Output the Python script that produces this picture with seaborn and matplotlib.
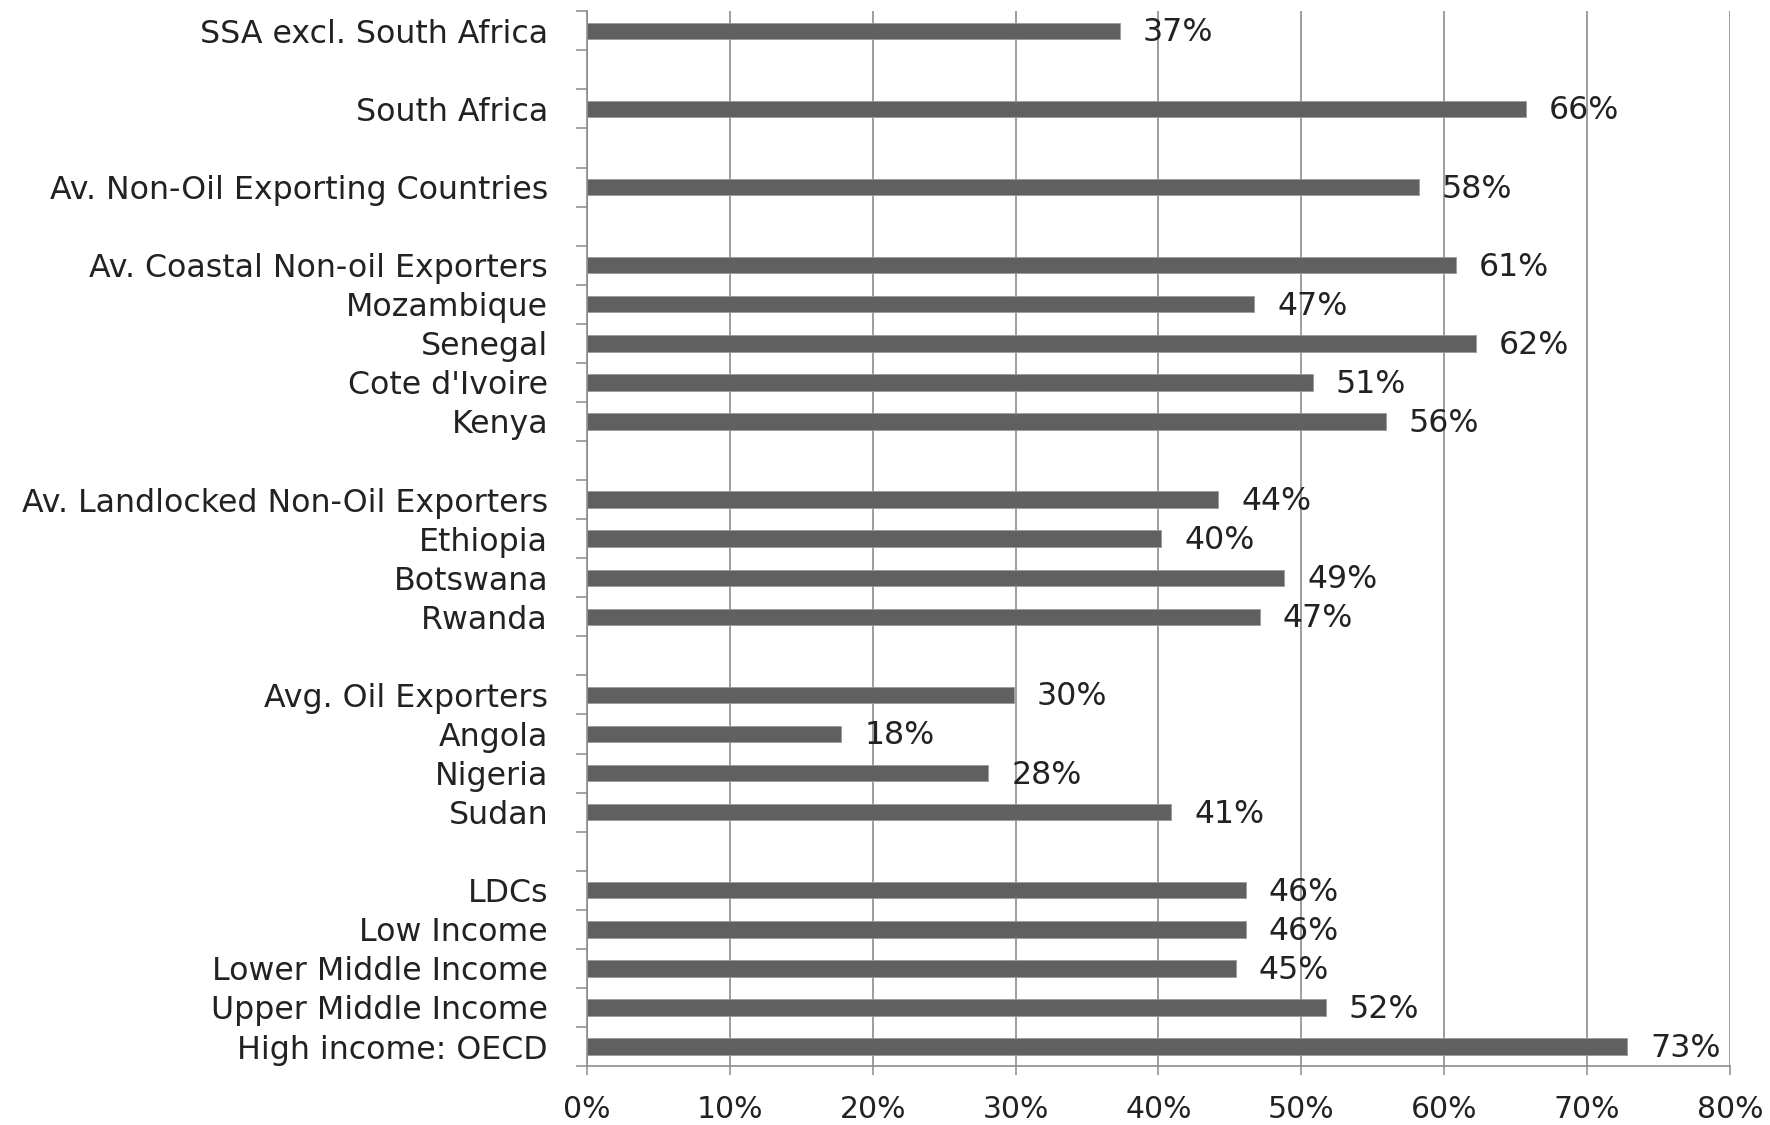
import matplotlib
matplotlib.use("Agg")
import matplotlib.pyplot as plt
import numpy as np
import pandas as pd
import seaborn as sns

# Groups of regions / countries (top to bottom), separated by an empty row
group_labels = [
    ["SSA excl. South Africa"],
    ["South Africa"],
    ["Av. Non-Oil Exporting Countries"],
    ["Av. Coastal Non-oil Exporters", "Mozambique", "Senegal", "Cote d'Ivoire", "Kenya"],
    ["Av. Landlocked Non-Oil Exporters", "Ethiopia", "Botswana", "Rwanda"],
    ["Avg. Oil Exporters", "Angola", "Nigeria", "Sudan"],
    ["LDCs", "Low Income", "Lower Middle Income", "Upper Middle Income", "High income: OECD"],
]
group_values = [
    [0.373],
    [0.657],
    [0.582],
    [0.608, 0.467, 0.622, 0.508, 0.559],
    [0.442, 0.402, 0.488, 0.471],
    [0.299, 0.178, 0.281, 0.409],
    [0.461, 0.461, 0.454, 0.517, 0.728],
]
x_ticks = [0.0, 0.1, 0.2, 0.3, 0.4, 0.5, 0.6, 0.7, 0.8]

# Build one row per slot; spacer slots carry no value
slots, labels, values = [], [], []
for gi, (names, vals) in enumerate(zip(group_labels, group_values)):
    if gi > 0:
        slots.append(f"_gap{gi}")
        labels.append("")
        values.append(np.nan)
    for n, v in zip(names, vals):
        slots.append(n)
        labels.append(n)
        values.append(v)
df = pd.DataFrame({"slot": slots, "share": values})

sns.set_theme(style="white")
plt.rcParams["font.family"] = ["DejaVu Sans"]

FS = 22.8
FS_X = 21.5
TXT = "#222222"
GRID = "#8c8c8c"

fig = plt.figure(figsize=(17.7, 11.25), dpi=100)
ax = fig.add_axes([0.3316, 0.0524, 0.9774 - 0.3316, 0.990 - 0.0524])

sns.barplot(data=df, y="slot", x="share", order=slots, orient="h",
            color="#606060", width=0.42, saturation=1, ax=ax,
            edgecolor="#9a9a9a", linewidth=0.6)

n = len(slots)
ax.set_ylim(n - 0.5, -0.5)
ax.set_xlim(0, 0.8)

# vertical gridlines at every 10%
ax.set_xticks(x_ticks)
ax.set_xticklabels([f"{t:.0%}" for t in x_ticks], fontsize=FS_X, color=TXT)
ax.xaxis.grid(True, color=GRID, linewidth=1.2)
ax.set_axisbelow(True)

# y: labels at slot centres, small tick marks at slot boundaries
ax.set_yticks(range(n))
ax.set_yticklabels(labels, fontsize=FS, color=TXT)
ax.set_yticks(np.arange(-0.5, n, 1.0), minor=True)
ax.tick_params(axis="y", which="major", length=0, pad=28)
ax.tick_params(axis="y", which="minor", length=8, width=1.1, color=GRID, left=True)
ax.tick_params(axis="x", which="major", length=6.5, width=1.1, color=GRID,
               bottom=True, pad=14)

for side in ("top", "right"):
    ax.spines[side].set_visible(False)
for side in ("left", "bottom"):
    ax.spines[side].set_color(GRID)
    ax.spines[side].set_linewidth(1.2)

ax.set_xlabel("")
ax.set_ylabel("")

# value labels to the right of each bar
for i, v in enumerate(values):
    if not np.isnan(v):
        ax.text(v + 0.016, i + 0.05, f"{v:.0%}", va="center", ha="left",
                fontsize=FS, color=TXT)

fig.savefig("out.png", dpi=100, facecolor="white")
